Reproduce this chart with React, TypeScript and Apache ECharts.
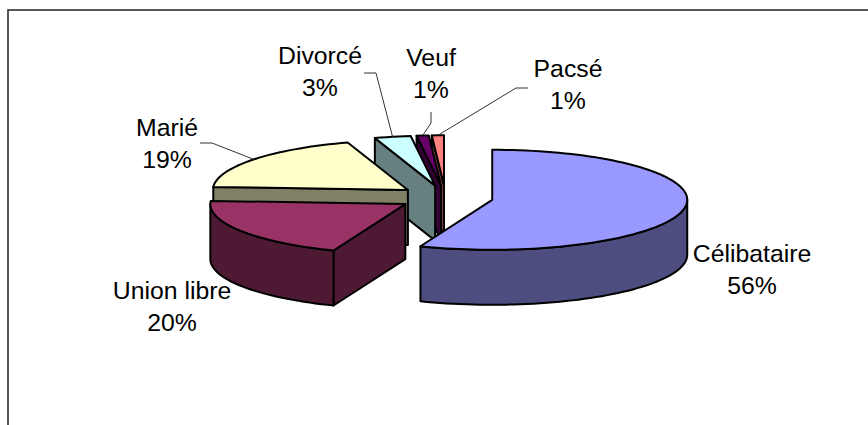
import React, { useEffect, useRef } from "react";
import * as echarts from "echarts";

// Data
const categories = ["Célibataire", "Union libre", "Marié", "Divorcé", "Veuf", "Pacsé"];
const percentages = [56, 20, 19, 3, 1, 1];
const topColors = ["#9999FF", "#993366", "#FFFFCC", "#CCFFFF", "#660066", "#FF8080"];
const wallColors = ["#4D4D80", "#4D1933", "#808066", "#668080", "#330033", "#804040"];
const drawOrder = [5, 4, 3, 2, 1, 0];
// Label block centres [x, y of first line]
const labelCentres = [[752, 253], [172, 290], [167, 127], [320, 55], [431, 57], [568, 68]];
// Leader line start and elbow (null: no leader)
const leaderStubs: (number[][] | null)[] = [
  null,
  null,
  [[200, 143], [212, 143]],
  [[364, 73], [376, 73]],
  [[431, 112], [431, 123]],
  [[528, 88], [516, 88]],
];

// Projection of the 3D pie
const CX = 445.5;
const CY = 197.5;
const RX = 195;
const RY = 50;
const DEPTH = 55;
const EXPLODE = 0.244;
const LINE_GAP = 32;
const FONT = "24.8px 'Liberation Sans', Arial, sans-serif";

const rad = (d: number) => (d * Math.PI) / 180;
const total = percentages.reduce((a, b) => a + b, 0);
const startAngle = (i: number) =>
  (percentages.slice(0, i).reduce((a, b) => a + b, 0) / total) * 360;
const onEllipse = (c: number[], deg: number, dy = 0) => [
  c[0] + RX * Math.sin(rad(deg)),
  c[1] - RY * Math.cos(rad(deg)) + dy,
];
const arc = (c: number[], from: number, to: number, dy = 0) => {
  const pts: number[][] = [];
  const n = Math.max(1, Math.ceil((to - from) / 2));
  for (let k = 0; k <= n; k++) pts.push(onEllipse(c, from + ((to - from) * k) / n, dy));
  return pts;
};

const renderItem = (_params: any, api: any) => {
  const i = api.value(0) as number;
  const pct = api.value(1) as number;
  const a = startAngle(i);
  const b = a + (pct / total) * 360;
  const mid = (a + b) / 2;
  const c = [
    CX + EXPLODE * RX * Math.sin(rad(mid)),
    CY - EXPLODE * RY * Math.cos(rad(mid)),
  ];
  const stroke = { stroke: "#000", lineWidth: 2, lineJoin: "round" };
  const children: any[] = [];

  // visible radial face (starting edge of the wedge, when it faces the viewer)
  if (a > 180) {
    const p = onEllipse(c, a);
    children.push({
      type: "polygon",
      shape: { points: [p, c, [c[0], c[1] + DEPTH], [p[0], p[1] + DEPTH]] },
      style: { fill: wallColors[i], ...stroke },
    });
  }
  // visible outer rim (front half of the ellipse)
  const r1 = Math.max(a, 90);
  const r2 = Math.min(b, 270);
  if (r2 > r1) {
    children.push({
      type: "polygon",
      shape: { points: [...arc(c, r1, r2), ...arc(c, r1, r2, DEPTH).reverse()] },
      style: { fill: wallColors[i], ...stroke },
    });
  }
  // top surface
  children.push({
    type: "polygon",
    shape: { points: [c, ...arc(c, a, b)] },
    style: { fill: topColors[i], ...stroke },
  });
  // leader line
  const stub = leaderStubs[i];
  if (stub) {
    children.push({
      type: "polyline",
      shape: { points: [...stub, onEllipse(c, mid)] },
      style: { fill: "none", stroke: "#333", lineWidth: 1 },
      z2: 50,
    });
  }
  return { type: "group", children };
};

export default function App() {
  const ref = useRef<HTMLDivElement>(null);
  useEffect(() => {
    const chart = echarts.init(ref.current!, undefined, { renderer: "svg" });
    const labelGraphics = categories.flatMap((name, i) => {
      const [x, y] = labelCentres[i];
      return [
        { text: name, dy: 0 },
        { text: `${percentages[i]}%`, dy: LINE_GAP },
      ].map((t) => ({
        type: "text",
        x,
        y: y + t.dy,
        z: 10,
        style: {
          text: t.text,
          fill: "#000",
          font: FONT,
          align: "center",
          verticalAlign: "middle",
        },
      }));
    });
    chart.setOption({
      animation: false,
      backgroundColor: "#fff",
      graphic: [
        {
          type: "polyline",
          z: 1,
          shape: { points: [[8, 425], [8, 10], [868, 10]] },
          style: { fill: "none", stroke: "#222", lineWidth: 1.5 },
        },
        ...labelGraphics,
      ],
      series: [
        {
          type: "custom",
          coordinateSystem: "none",
          renderItem,
          silent: true,
          data: drawOrder.map((i) => [i, percentages[i]]),
        },
      ],
    });
    return () => chart.dispose();
  }, []);
  return (
    <div
      ref={ref}
      style={{ position: "absolute", left: 0, top: 0, width: 868, height: 425 }}
    />
  );
}
